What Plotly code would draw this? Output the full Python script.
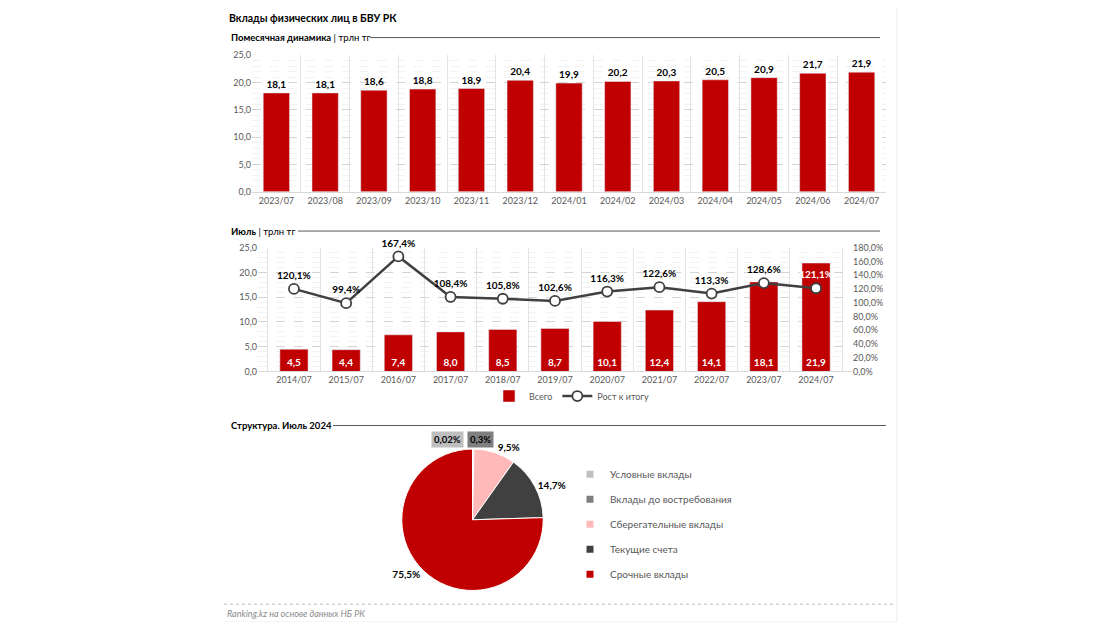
import plotly.graph_objects as go

# Page body has an 8px margin: draw a figure that fits inside it
M = 8
W, H = 1120 - 2 * M, 630 - 2 * M

title = "Вклады физических лиц в БВУ РК"
sub1 = "<b>Помесячная динамика</b> | трлн тг"
sub2 = "<b>Июль</b> | трлн тг"
sub3 = "<b>Структура. Июль 2024</b>"
source = "Ranking.kz на основе данных НБ РК"

months = ["2023/07", "2023/08", "2023/09", "2023/10", "2023/11", "2023/12", "2024/01",
          "2024/02", "2024/03", "2024/04", "2024/05", "2024/06", "2024/07"]
monthly = [18.1, 18.1, 18.6, 18.8, 18.9, 20.4, 19.9, 20.2, 20.3, 20.5, 20.9, 21.7, 21.9]

years = ["2014/07", "2015/07", "2016/07", "2017/07", "2018/07", "2019/07", "2020/07",
         "2021/07", "2022/07", "2023/07", "2024/07"]
july_total = [4.5, 4.4, 7.4, 8.0, 8.5, 8.7, 10.1, 12.4, 14.1, 18.1, 21.9]
july_growth = [120.1, 99.4, 167.4, 108.4, 105.8, 102.6, 116.3, 122.6, 113.3, 128.6, 121.1]
series_names = ["Всего", "Рост к итогу"]

struct_labels = ["Условные вклады", "Вклады до востребования", "Сберегательные вклады",
                 "Текущие счета", "Срочные вклады"]
struct_values = [0.02, 0.3, 9.5, 14.7, 75.5]
struct_colors = ["#BFBFBF", "#7F7F7F", "#FFB9B9", "#404040", "#C00000"]

RED = "#C00000"
GRAY = "#595959"
FONT = "Lato"


def px(x):
    return (x - M) / W


def py(y):
    return 1 - (y - M) / H


fig = go.Figure()

# Panel 1: monthly
fig.add_trace(go.Bar(
    x=months, y=monthly, marker_color=RED, showlegend=False,
    texttemplate="<b>%{y:.1f}</b>", textposition="outside", cliponaxis=False,
    textfont=dict(size=10, color="#000000", family=FONT),
    xaxis="x", yaxis="y", hoverinfo="skip",
))

# Panel 2: July
fig.add_trace(go.Bar(
    x=years, y=july_total, marker_color=RED, name=series_names[0],
    texttemplate="<b>%{y:.1f}</b>", textposition="inside", insidetextanchor="start",
    textfont=dict(size=10, color="#FFFFFF", family=FONT),
    xaxis="x2", yaxis="y2", legend="legend",
))
txt_colors = ["#000000"] * (len(july_growth) - 1) + ["#FFFFFF"]
fig.add_trace(go.Scatter(
    x=years, y=july_growth, name=series_names[1], mode="lines+markers+text",
    line=dict(color="#404040", width=2.5),
    marker=dict(size=10, color="#FFFFFF", line=dict(color="#404040", width=1.8)),
    texttemplate="<b>%{y:.1f}%</b>", textposition="top center",
    textfont=dict(size=10, color=txt_colors, family=FONT), cliponaxis=False,
    xaxis="x2", yaxis="y3", legend="legend",
))

# Panel 3: structure pie
pie_tt = ["", ""] + ["<b>%{value:.1f}%</b>"] * 3
fig.add_trace(go.Pie(
    labels=struct_labels, values=struct_values, sort=False, direction="clockwise",
    marker=dict(colors=struct_colors, line=dict(color="#FFFFFF", width=1)),
    texttemplate=pie_tt, textposition="outside",
    textfont=dict(size=10, color="#000000", family=FONT),
    domain=dict(x=[px(400), px(545)], y=[py(595), py(451)]),
    showlegend=False, hoverinfo="label+percent",
))
# legend entries for the pie (one group each so the rows can be spaced)
for lab, col in zip(struct_labels, struct_colors):
    fig.add_trace(go.Scatter(
        x=[None], y=[None], mode="markers", name=lab, legendgroup=lab,
        marker=dict(symbol="square", size=7, color=col),
        legend="legend2", xaxis="x", yaxis="y", hoverinfo="skip",
    ))

axis_common = dict(tickfont=dict(size=9, color=GRAY, family=FONT), ticks="", fixedrange=True)

fig.update_layout(
    width=W, height=H, margin=dict(l=0, r=0, t=0, b=0),
    paper_bgcolor="white", plot_bgcolor="white",
    separators=", ", font=dict(family=FONT, color=GRAY), bargap=0.46,
    xaxis=dict(domain=[px(252), px(886)], anchor="y", type="category", tickson="boundaries",
               showgrid=True, gridcolor="#E3E3E3", showline=True, linecolor="#D9D9D9", **axis_common),
    yaxis=dict(domain=[py(189), py(50)], anchor="x", range=[0, 25], dtick=5, tickformat=".1f",
               showgrid=True, gridcolor="#D4D4D4", griddash="dash", zeroline=False,
               minor=dict(dtick=1, showgrid=True, gridcolor="#F3F3F3"), **axis_common),
    xaxis2=dict(domain=[px(258), px(852)], anchor="y2", type="category", tickson="boundaries",
                showgrid=True, gridcolor="#E3E3E3", showline=True, linecolor="#D9D9D9", **axis_common),
    yaxis2=dict(domain=[py(372), py(246)], anchor="x2", range=[0, 25], dtick=5, tickformat=".1f",
                showgrid=True, gridcolor="#D4D4D4", griddash="dash", zeroline=False,
                minor=dict(dtick=1, showgrid=True, gridcolor="#F3F3F3"), **axis_common),
    yaxis3=dict(overlaying="y2", anchor="x2", side="right", range=[0, 180], dtick=20,
                tickformat=".1f", ticksuffix="%", showgrid=False, zeroline=False, **axis_common),
    legend=dict(orientation="h", x=px(572), y=py(397), xanchor="center", yanchor="middle",
                font=dict(size=9, color=GRAY, family=FONT), bgcolor="rgba(0,0,0,0)",
                itemwidth=30),
    legend2=dict(x=px(570), y=py(462), xanchor="left", yanchor="top", tracegroupgap=6,
                 font=dict(size=10, color=GRAY, family=FONT), bgcolor="rgba(0,0,0,0)",
                 itemwidth=30),
)

# Texts
ann = [
    dict(text=f"<b>{title}</b>", x=px(227), y=py(12), font=dict(size=10.5, color="#000000")),
    dict(text=sub1, x=px(229), y=py(32), font=dict(size=9.5, color="#000000")),
    dict(text=sub2, x=px(229), y=py(229), font=dict(size=9.5, color="#000000")),
    dict(text=sub3, x=px(229), y=py(427), font=dict(size=9.5, color="#000000")),
    dict(text=f"<i>{source}</i>", x=px(225), y=py(618), font=dict(size=9, color="#8C8C8C")),
]
for a in ann:
    fig.add_annotation(xref="paper", yref="paper", xanchor="left", yanchor="middle",
                       showarrow=False, font_family=FONT, **a)

# small pie slice labels in boxes
small_fmt = ["{:.2f}%", "{:.1f}%"]
for i, xx in [(0, 447), (1, 480)]:
    fig.add_annotation(xref="paper", yref="paper", x=px(xx), y=py(441), showarrow=False,
                       xanchor="center", yanchor="middle",
                       text="<b>" + small_fmt[i].format(struct_values[i]).replace(".", ",") + "</b>",
                       bgcolor=struct_colors[i], font=dict(size=9.5, color="#000000", family=FONT),
                       borderpad=2)

# Rules and frame
shapes = [
    dict(type="line", x0=px(370), x1=px(880), y0=py(32), y1=py(32), line=dict(color="#595959", width=1)),
    dict(type="line", x0=px(298), x1=px(880), y0=py(229), y1=py(229), line=dict(color="#595959", width=1)),
    dict(type="line", x0=px(333), x1=px(886), y0=py(427), y1=py(427), line=dict(color="#595959", width=1)),
    dict(type="line", x0=px(224), x1=px(896), y0=py(609), y1=py(609),
         line=dict(color="#BFBFBF", width=1, dash="dot")),
    dict(type="line", x0=px(897), x1=px(897), y0=py(627), y1=py(0), line=dict(color="#EDEDED", width=1)),
    dict(type="line", x0=px(223), x1=px(897), y0=py(627), y1=py(627), line=dict(color="#F0F0F0", width=1)),
]
for s in shapes:
    fig.add_shape(xref="paper", yref="paper", **s)

fig.write_html("out.html")
